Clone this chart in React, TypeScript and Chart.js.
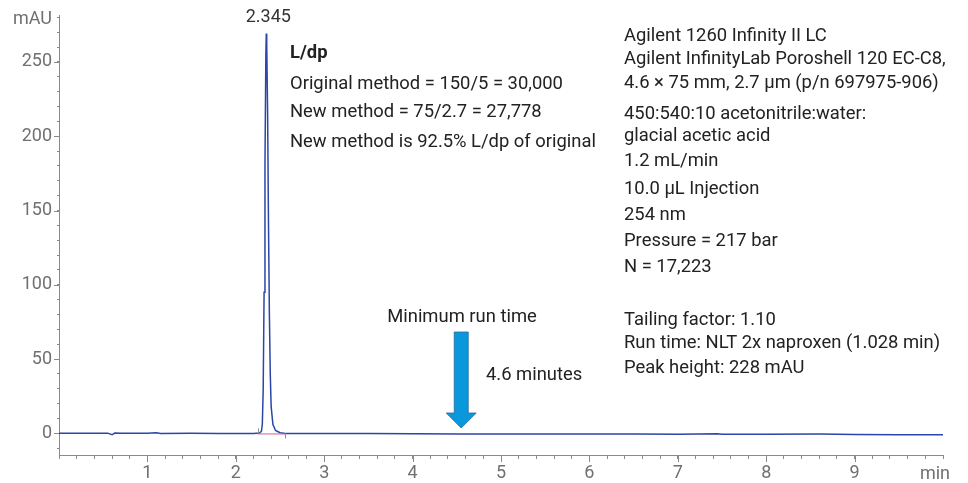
import React, { useEffect, useRef } from 'react';
import { Chart, registerables } from 'chart.js';

Chart.register(...registerables);

// ---- data ----
const times = [
  0, 0.3, 0.55, 0.6, 0.63, 0.7, 1.0, 1.1, 1.15, 1.5, 1.8, 2.0, 2.2, 2.27, 2.29, 2.3, 2.31, 2.32, 2.33,
  2.34, 2.345, 2.35, 2.36, 2.37, 2.38, 2.39, 2.4, 2.42, 2.45, 2.5, 2.56, 3.0, 3.5, 4.0, 4.5, 5.0, 5.5,
  6.0, 6.5, 7.0, 7.45, 7.5, 8.0, 8.6, 9.0, 9.5, 9.7, 10.0,
];
const signal = [
  0.2, 0.2, 0.2, -0.9, 0.3, 0.1, 0.2, 0.4, 0.0, 0.1, 0.0, 0.0, 0.0, 0.3, 1.5, 6, 30, 95, 180,
  255, 269, 262, 215, 140, 80, 40, 18, 6, 2, 0.5, 0, 0, -0.1, -0.2, -0.3, -0.3, -0.3,
  -0.4, -0.4, -0.5, -0.2, -0.5, -0.6, -0.4, -0.7, -0.8, -0.9, -0.8,
];
const peakTime = 2.345;
const peakHeight = 269;
const peakLabel = '2.345';
const integrationStart = 2.25;
const integrationEnd = 2.56;

const xTickLabels = [1, 2, 3, 4, 5, 6, 7, 8, 9];
const yTickLabels = [0, 50, 100, 150, 200, 250];
const xUnit = 'min';
const yUnit = 'mAU';

const ldpTitle = 'L/dp';
const ldpLines = [
  'Original method = 150/5 = 30,000',
  'New method = 75/2.7 = 27,778',
  'New method is 92.5% L/dp of original',
];
const conditionLines = [
  'Agilent 1260 Infinity II LC',
  'Agilent InfinityLab Poroshell 120 EC-C8,',
  '4.6 × 75 mm, 2.7 µm (p/n 697975-906)',
  '450:540:10 acetonitrile:water:',
  'glacial acetic acid',
  '1.2 mL/min',
  '10.0 µL Injection',
  '254 nm',
  'Pressure = 217 bar',
  'N = 17,223',
];
const resultLines = [
  'Tailing factor: 1.10',
  'Run time: NLT 2x naproxen (1.028 min)',
  'Peak height: 228 mAU',
];
const arrowTitle = 'Minimum run time';
const arrowNote = '4.6 minutes';
const arrowTime = 4.55;

// ---- styles ----
const FONT = 'Roboto, "Open Sans", sans-serif';
const axisColor = '#8a8a8a';
const tickLabelColor = '#707070';
const textColor = '#222222';
const lineColor = '#2b45a8';
const TEXT_SIZE = 18.4;
const TICK_SIZE = 18;

const annotationPlugin = {
  id: 'annotations',
  afterDraw(chart: any) {
    const { ctx, scales } = chart;
    const x = scales.x;
    const y = scales.y;
    const area = chart.chartArea;
    ctx.save();

    // major tick extensions
    ctx.strokeStyle = axisColor;
    ctx.lineWidth = 1;
    xTickLabels.forEach((v) => {
      const px = Math.round(x.getPixelForValue(v)) + 0.5;
      ctx.beginPath();
      ctx.moveTo(px, area.bottom);
      ctx.lineTo(px, area.bottom + 7);
      ctx.stroke();
    });
    yTickLabels.forEach((v) => {
      const py = Math.round(y.getPixelForValue(v)) + 0.5;
      ctx.beginPath();
      ctx.moveTo(area.left, py);
      ctx.lineTo(area.left - 5, py);
      ctx.stroke();
    });

    // integration baseline + markers
    const y0 = y.getPixelForValue(0);
    ctx.strokeStyle = '#d0608a';
    ctx.lineWidth = 1;
    ctx.beginPath();
    ctx.moveTo(x.getPixelForValue(integrationStart), y0 + 0.5);
    ctx.lineTo(x.getPixelForValue(integrationEnd), y0 + 0.5);
    ctx.stroke();
    ctx.strokeStyle = '#909090';
    ctx.beginPath();
    const ps = Math.round(x.getPixelForValue(integrationStart)) + 0.5;
    ctx.moveTo(ps, y0);
    ctx.lineTo(ps, y0 - 5);
    const pe = Math.round(x.getPixelForValue(integrationEnd)) + 0.5;
    ctx.moveTo(pe, y0);
    ctx.lineTo(pe, y0 + 5);
    ctx.stroke();

    // unit labels
    ctx.fillStyle = tickLabelColor;
    ctx.font = `${TICK_SIZE}px ${FONT}`;
    ctx.textBaseline = 'middle';
    ctx.textAlign = 'right';
    ctx.fillText(yUnit, 52, 19);
    ctx.textAlign = 'center';
    ctx.fillText(xUnit, 935, 474);

    // peak label
    ctx.fillStyle = '#333333';
    ctx.textAlign = 'center';
    ctx.fillText(peakLabel, x.getPixelForValue(peakTime) + 2, y.getPixelForValue(peakHeight) - 16);

    // L/dp block
    ctx.fillStyle = textColor;
    ctx.textAlign = 'left';
    ctx.font = `bold ${TEXT_SIZE}px ${FONT}`;
    ctx.fillText(ldpTitle, 290, 53);
    ctx.font = `${TEXT_SIZE}px ${FONT}`;
    const ldpY = [84, 112, 142];
    ldpLines.forEach((t, i) => ctx.fillText(t, 290, ldpY[i]));

    // conditions block
    const condY = [36, 59, 83, 114, 136, 161, 189, 215, 241, 267];
    conditionLines.forEach((t, i) => ctx.fillText(t, 624, condY[i]));
    const resY = [320, 343, 368];
    resultLines.forEach((t, i) => ctx.fillText(t, 624, resY[i]));

    // arrow
    const ax = x.getPixelForValue(arrowTime);
    const top = 332;
    const headStart = 413;
    const tip = 428;
    ctx.beginPath();
    ctx.moveTo(ax - 7, top);
    ctx.lineTo(ax + 7, top);
    ctx.lineTo(ax + 7, headStart);
    ctx.lineTo(ax + 15, headStart);
    ctx.lineTo(ax, tip);
    ctx.lineTo(ax - 15, headStart);
    ctx.lineTo(ax - 7, headStart);
    ctx.closePath();
    ctx.fillStyle = '#0a98dc';
    ctx.fill();
    ctx.strokeStyle = '#2a6a9a';
    ctx.lineWidth = 0.8;
    ctx.stroke();

    ctx.fillStyle = textColor;
    ctx.textAlign = 'center';
    ctx.fillText(arrowTitle, 462, 317);
    ctx.textAlign = 'left';
    ctx.fillText(arrowNote, 486, 375);

    ctx.restore();
  },
};

export default function App() {
  const canvasRef = useRef<HTMLCanvasElement | null>(null);

  useEffect(() => {
    const canvas = canvasRef.current;
    if (!canvas) return;
    const chart = new Chart(canvas, {
      type: 'line',
      data: {
        datasets: [
          {
            data: times.map((t, i) => ({ x: t, y: signal[i] })),
            borderColor: lineColor,
            borderWidth: 1.5,
            pointRadius: 0,
            tension: 0,
            fill: false,
          },
        ],
      },
      options: {
        animation: false,
        responsive: false,
        maintainAspectRatio: false,
        layout: { padding: { top: 14, right: 25, left: 0, bottom: 0 } },
        plugins: { legend: { display: false }, tooltip: { enabled: false } },
        scales: {
          x: {
            type: 'linear',
            min: 0,
            max: 10,
            afterFit: (s: any) => {
              s.height = 28;
            },
            border: { display: true, color: axisColor, width: 1 },
            grid: {
              display: true,
              drawOnChartArea: false,
              drawTicks: true,
              tickLength: 4,
              tickColor: axisColor,
            },
            ticks: {
              stepSize: 0.2,
              includeBounds: false,
              autoSkip: false,
              maxRotation: 0,
              padding: 4,
              color: tickLabelColor,
              font: { family: FONT, size: TICK_SIZE },
              callback: (v: any) => {
                const r = Math.round(Number(v) * 1000) / 1000;
                return xTickLabels.includes(r) ? String(r) : '';
              },
            },
          },
          y: {
            type: 'linear',
            min: -14.5,
            max: 281,
            afterFit: (s: any) => {
              s.width = 59;
            },
            border: { display: true, color: axisColor, width: 1 },
            grid: {
              display: true,
              drawOnChartArea: false,
              drawTicks: true,
              tickLength: 2,
              tickColor: axisColor,
            },
            ticks: {
              stepSize: 10,
              includeBounds: false,
              autoSkip: false,
              padding: 5,
              color: tickLabelColor,
              font: { family: FONT, size: TICK_SIZE },
              callback: (v: any) => {
                const r = Math.round(Number(v));
                return yTickLabels.includes(r) ? String(r) : '';
              },
            },
          },
        },
      },
      plugins: [annotationPlugin],
    });
    return () => chart.destroy();
  }, []);

  return (
    <div style={{ position: 'fixed', left: 0, top: 0, width: 968, height: 483, background: '#fff' }}>
      <canvas ref={canvasRef} width={968} height={483} style={{ display: 'block' }} />
    </div>
  );
}
